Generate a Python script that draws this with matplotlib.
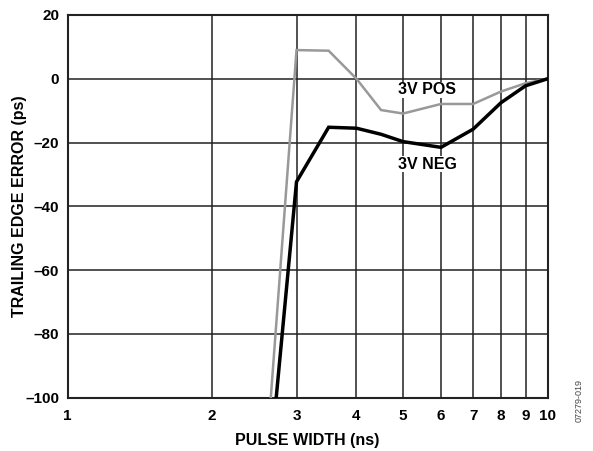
import matplotlib
matplotlib.use("Agg")
import matplotlib.pyplot as plt
from matplotlib.ticker import FixedLocator, FixedFormatter, NullLocator

plt.rcParams['font.family'] = ['Liberation Sans', 'DejaVu Sans']

pulse_width = [2.5, 3.0, 3.5, 4.0, 4.5, 5.0, 6.0, 7.0, 8.0, 9.0, 10.0]
pos_3v = [-152, 9.0, 8.8, 0.0, -9.8, -10.9, -7.9, -7.9, -4.0, -1.4, 0.0]
neg_3v = [-159, -32.3, -15.2, -15.5, -17.4, -19.7, -21.5, -15.8, -7.5, -2.2, 0.0]

x_ticks = [1, 2, 3, 4, 5, 6, 7, 8, 9, 10]
x_labels = ["1", "2", "3", "4", "5", "6", "7", "8", "9", "10"]
y_ticks = [-100, -80, -60, -40, -20, 0, 20]
y_labels = ["\u2013100", "\u201380", "\u201360", "\u201340", "\u201320", "0", "20"]

W, H = 593, 451
L, R, T, B = 67.5, 547.5, 15, 397.7

fig = plt.figure(figsize=(W/100, H/100), dpi=100)
ax = fig.add_axes([L/W, 1 - B/H, (R-L)/W, (B-T)/H])

ax.plot(pulse_width, pos_3v, color="#999999", lw=1.8, solid_joinstyle="miter", zorder=3)
ax.plot(pulse_width, neg_3v, color="black", lw=2.5, solid_joinstyle="miter", zorder=4)

ax.set_xscale("log")
ax.set_xlim(1, 10)
ax.set_ylim(-100, 20)
ax.xaxis.set_major_locator(FixedLocator(x_ticks))
ax.xaxis.set_major_formatter(FixedFormatter(x_labels))
ax.xaxis.set_minor_locator(NullLocator())
ax.yaxis.set_major_locator(FixedLocator(y_ticks))
ax.yaxis.set_major_formatter(FixedFormatter(y_labels))
ax.tick_params(axis="y", length=0, labelsize=11, pad=6)
ax.tick_params(axis="x", length=0, labelsize=11, pad=8)
for lab in ax.get_xticklabels() + ax.get_yticklabels():
    lab.set_fontweight("bold")
ax.grid(True, color="#222222", lw=1.1)
for s in ax.spines.values():
    s.set_linewidth(1.5)
    s.set_color("#222222")

ax.set_xlabel("PULSE WIDTH (ns)", fontsize=11.5, fontweight="bold", labelpad=7)
ax.set_ylabel("TRAILING EDGE ERROR (ps)", fontsize=11.5, fontweight="bold")
ax.yaxis.set_label_coords(-0.084, 0.5)

ax.text(5.61, -3.5, "3V POS", fontsize=11.5, fontweight="bold", ha="center", va="center",
        bbox=dict(facecolor="white", edgecolor="none", pad=0.3), zorder=5)
ax.text(5.61, -26.8, "3V NEG", fontsize=11.5, fontweight="bold", ha="center", va="center",
        bbox=dict(facecolor="white", edgecolor="none", pad=0.3), zorder=5)

fig.text(579/W, 1 - 401/H, "07279-019", rotation=90, fontsize=6.5, color="#444444",
         ha="center", va="center")

fig.savefig("out.png", dpi=100)
